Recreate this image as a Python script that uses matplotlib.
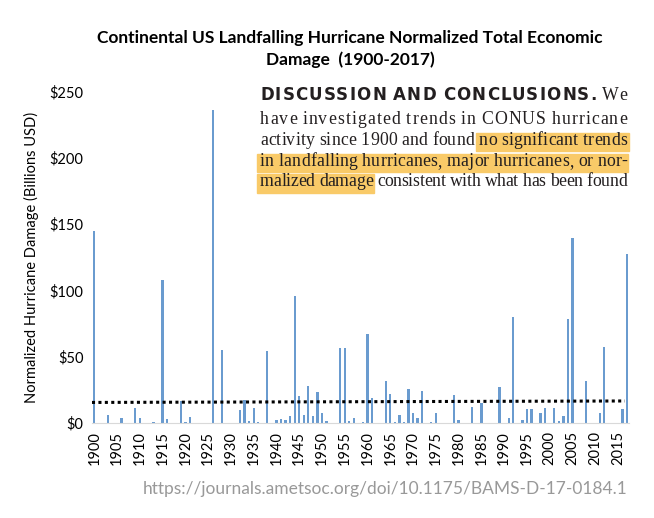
import matplotlib.pyplot as plt
from matplotlib.patches import Rectangle
from matplotlib.font_manager import FontProperties

# normalized damage, billions USD
years = [1900, 1903, 1906, 1909, 1910, 1913, 1915, 1916, 1919, 1920, 1921,
         1926, 1928, 1932, 1933, 1934, 1935, 1936, 1938, 1940, 1941, 1942,
         1943, 1944, 1945, 1946, 1947, 1948, 1949, 1950, 1951, 1954, 1955,
         1956, 1957, 1959, 1960, 1961, 1964, 1965, 1966, 1967, 1968, 1969,
         1970, 1971, 1972, 1974, 1975, 1979, 1980, 1983, 1985, 1989, 1991,
         1992, 1994, 1995, 1996, 1998, 1999, 2001, 2002, 2003, 2004, 2005,
         2008, 2011, 2012, 2016, 2017]
damage = [145, 6, 4, 11, 4, 1, 108, 3, 16.5, 0.6, 4.4,
          236, 55, 10, 17.3, 1.2, 11.2, 0.6, 54.5, 2.5, 2.8, 2.4,
          5.3, 95.7, 20.3, 6.2, 28, 5.6, 23.5, 7.9, 1.2, 56.8, 56.8,
          1.5, 4, 1, 67, 18.6, 31.6, 21.9, 1, 5.8, 1, 26,
          7.8, 4, 24, 1, 7.3, 20.9, 2.3, 12.3, 15.3, 27, 3.4,
          80, 2.6, 10.8, 10.8, 7.3, 11, 11, 1.5, 5.3, 78.6, 139.6,
          31.6, 7.8, 57.5, 10.3, 127.6]
trend_years = [1899.5, 2016.5]
trend_vals = [15.5, 16.6]

yticks = [0, 50, 100, 150, 200, 250]
ytick_labels = ['$0', '$50', '$100', '$150', '$200', '$250']
xticks = list(range(1900, 2016, 5))

W, H = 654, 518
fig = plt.figure(figsize=(W / 100, H / 100), dpi=100)
ax = fig.add_axes([92 / W, 1 - 423 / H, (629.4 - 92) / W, (423 - 91.3) / H])

ax.bar(years, damage, width=0.5, color='#6A9BCF', zorder=2)
ax.plot(trend_years, trend_vals, color='black', lw=2.2, ls=(0, (1, 1.1)), zorder=3)

ax.set_xlim(1899.5, 2017.5)
ax.set_ylim(0, 250)
ax.set_yticks(yticks)
ax.set_yticklabels(ytick_labels, fontsize=10.5, family='Lato')
ax.set_xticks(xticks)
ax.set_xticklabels([str(x) for x in xticks], rotation=90, fontsize=10.5, family='Lato')
ax.tick_params(length=0, pad=6)
for s in ['top', 'right', 'left']:
    ax.spines[s].set_visible(False)
ax.spines['bottom'].set_color('#D9D9D9')
ax.set_ylabel('Normalized Hurricane Damage (Billions USD)', fontsize=10.5, family='Lato', labelpad=8)

fig.text(350 / W, 1 - 38 / H, 'Continental US Landfalling Hurricane Normalized Total Economic',
         ha='center', va='center', fontsize=12.5, weight='bold', family='Lato')
fig.text(350 / W, 1 - 60 / H, 'Damage  (1900-2017)',
         ha='center', va='center', fontsize=12.5, weight='bold', family='Lato')

fig.text(627 / W, 1 - 489 / H, 'https://journals.ametsoc.org/doi/10.1175/BAMS-D-17-0184.1',
         ha='right', va='center', fontsize=12.5, color='#999999', family='Lato')

# justified paragraph from the paper, letter-spaced to fill each line
head = dict(family='DejaVu Sans', weight='bold', size=12, color='#231F20')
body = dict(family='Liberation Serif', size=12.8, color='#231F20')
lines = [
    [('DISCUSSION', head, 0), ('AND', head, 0), ('CONCLUSIONS.', head, 0), ('We', body, 0)],
    [(w, body, 0) for w in 'have investigated trends in CONUS hurricane'.split()],
    [(w, body, 0) for w in 'activity since 1900 and found'.split()]
    + [(w, body, 1) for w in 'no significant trends'.split()],
    [(w, body, 1) for w in 'in landfalling hurricanes, major hurricanes, or nor-'.split()],
    [(w, body, 1) for w in 'malized damage'.split()]
    + [(w, body, 0) for w in 'consistent with what has been found'.split()],
]
baselines = [100.5, 124.5, 145, 166, 186.5]
x0, x1 = 260, 627
renderer = fig.canvas.get_renderer()


def tw(s, st):
    prop = FontProperties(family=st['family'], weight=st.get('weight', 'normal'), size=st['size'])
    return renderer.get_text_width_height_descent(s, prop, ismath=False)[0]


for words, yb in zip(lines, baselines):
    natural = 0
    gaps = 0
    for k, (w, st, hl) in enumerate(words):
        natural += tw(w, st)
        gaps += len(w) - 1
        if k > 0:
            natural += tw('n n', st) - tw('nn', st)
            gaps += 1
    t = (x1 - x0 - natural) / gaps
    x = x0
    hl_left, hl_right = None, None
    for k, (w, st, hl) in enumerate(words):
        if k > 0:
            x += tw('n n', st) - tw('nn', st) + t
        for i, c in enumerate(w):
            cx = x + tw(w[:i + 1], st) - tw(c, st) + i * t
            fig.text(cx / W, 1 - yb / H, c, va='baseline', ha='left', zorder=5, **st)
        wend = x + tw(w, st) + (len(w) - 1) * t
        if hl:
            if hl_left is None:
                hl_left = x - 3
            hl_right = wend + 1.5
        x = wend
    if hl_left is not None:
        fig.patches.append(Rectangle((hl_left / W, 1 - (yb + 6) / H), (hl_right - hl_left) / W,
                                     18.5 / H, transform=fig.transFigure,
                                     color='#F9CA68', zorder=1))

plt.savefig('out.png', dpi=100)
